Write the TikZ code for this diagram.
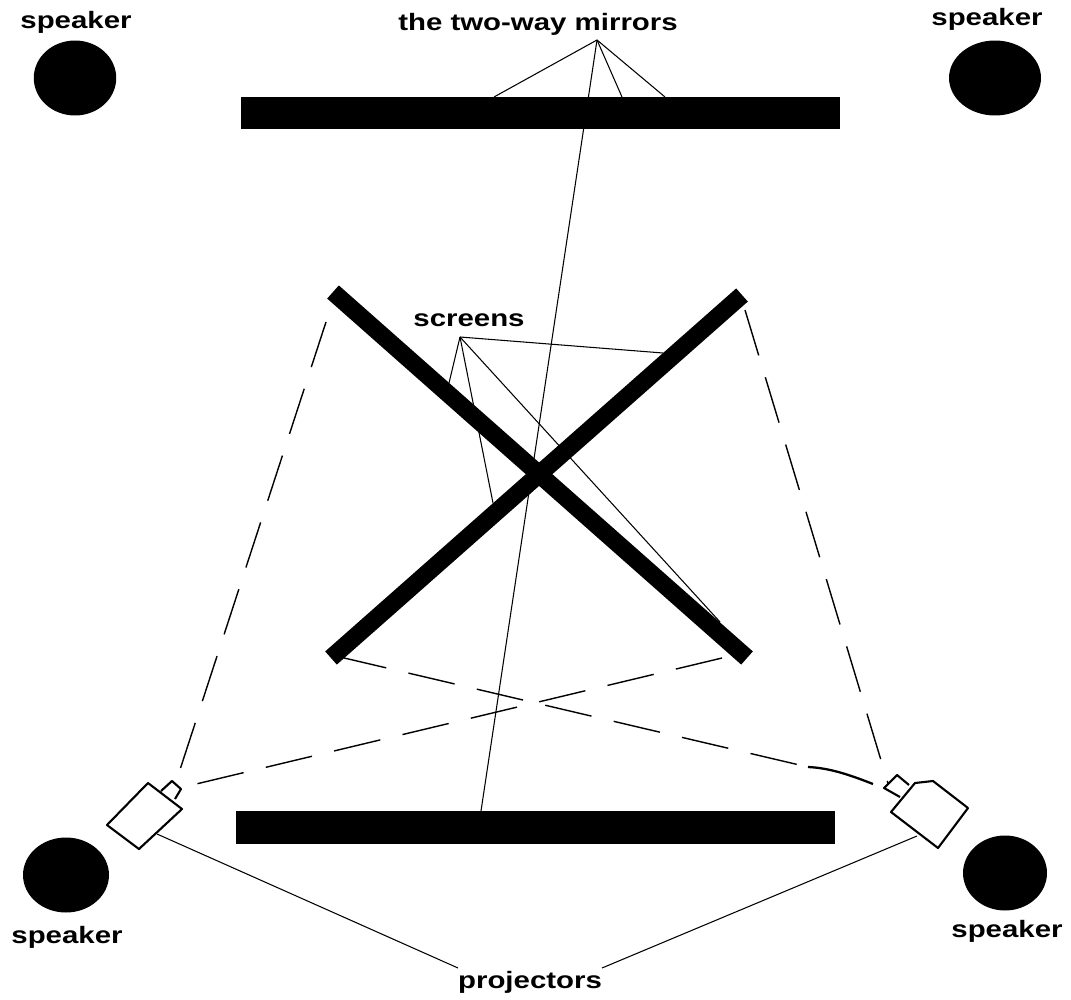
\documentclass[tikz,border=0pt]{standalone}
\usepackage{fontspec}
\setmainfont[FakeStretch=1.24]{Liberation Sans}
\usepackage{tikz}
\usetikzlibrary{shapes.geometric, arrows.meta, positioning}

\begin{document}
\begin{tikzpicture}[
    x=0.02cm,
    y=-0.02cm,
    mirror/.style={
        rectangle,
        fill=black,
        inner sep=0pt,
        minimum width=12cm,
        minimum height=0.65cm
    },
    speaker/.style={
        ellipse,
        fill=black,
        inner sep=0pt,
        minimum width=1.65cm,
        minimum height=1.5cm
    },
    caption/.style={font=\fontsize{13.5}{15}\selectfont\bfseries, inner sep=1pt},
    screen/.style={line width=10pt},
    thinline/.style={line width=0.6pt},
    beam/.style={line width=0.8pt, dash pattern=on 27pt off 13pt},
    projector/.style={line width=1.2pt, fill=white, line join=round}
]
\useasboundingbox (0,0) rectangle (1071,1000);

% label nodes
\node[caption] (labelmirrors) at (538,24) {the two-way mirrors};
\node[caption] (labelscreens) at (469,320) {screens};
\node[caption] (labelprojectors) at (530,982) {projectors};
\node[caption] (labeltl) at (76,22) {speaker};
\node[caption] (labeltr) at (987,19) {speaker};
\node[caption] (labelbl) at (67,937) {speaker};
\node[caption] (labelbr) at (1007,931) {speaker};

% ends of the leader lines
\coordinate (apexm) at (597,40);
\coordinate (apexs) at (460,337);
\coordinate (apexpl) at (458,968);
\coordinate (apexpr) at (602,968);
\coordinate (m1) at (494,97);
\coordinate (m2) at (622,97);
\coordinate (m3) at (665,97);
\coordinate (m4) at (481,811);
\coordinate (s1) at (449,383);
\coordinate (s2) at (493,503);
\coordinate (s3) at (663,353);
\coordinate (s4) at (720,622);
\coordinate (pl) at (157,834);
\coordinate (pr) at (917,836);

% leader lines
\draw[thinline] (apexm) -- (m1);
\draw[thinline] (apexm) -- (m2);
\draw[thinline] (apexm) -- (m3);
\draw[thinline] (apexm) -- (m4);
\draw[thinline] (apexs) -- (s1);
\draw[thinline] (apexs) -- (s2);
\draw[thinline] (apexs) -- (s3);
\draw[thinline] (apexs) -- (s4);
\draw[thinline] (pl) -- (apexpl);
\draw[thinline] (pr) -- (apexpr);

% mirrors and speakers
\node[mirror] (mirrortop) at (540.5,113) {};
\node[mirror] (mirrorbottom) at (535.5,827.5) {};
\node[speaker] (speakertl) at (75,78) {};
\node[speaker, minimum width=1.84cm] (speakertr) at (995,78) {};
\node[speaker, minimum width=1.72cm] (speakerbl) at (66,875) {};
\node[speaker, minimum width=1.68cm] (speakerbr) at (1005,873) {};

% screens
\coordinate (sa) at (333,292);
\coordinate (sb) at (747,658);
\coordinate (sc) at (742,295);
\coordinate (sd) at (331,658);
\draw[screen] (sa) -- (sb);
\draw[screen] (sc) -- (sd);

% light paths
\coordinate (lenl) at (175,785);
\coordinate (lenr) at (890,790);
\draw[beam] (326,322) -- (lenl);
\draw[beam] (745,310) -- (lenr);
\draw[beam] (722,658) -- (192,785);
\draw[beam] (340,657) -- (808,767);
\draw[line width=1.3pt] (808,767) .. controls (830,768) and (850,775) .. (873,784);

% projectors
\draw[projector] (148,783) -- (182,809) -- (139,849) -- (107,825) -- cycle;
\draw[projector] (161,791) -- (172,781) -- (181,789) -- (175,799);
\draw[projector] (915,783) -- (933,781) -- (968,808) -- (938,848) -- (891,812) -- cycle;
\draw[projector] (909,785) -- (897,775) -- (884,788) -- (900,797);

\end{tikzpicture}
\end{document}
